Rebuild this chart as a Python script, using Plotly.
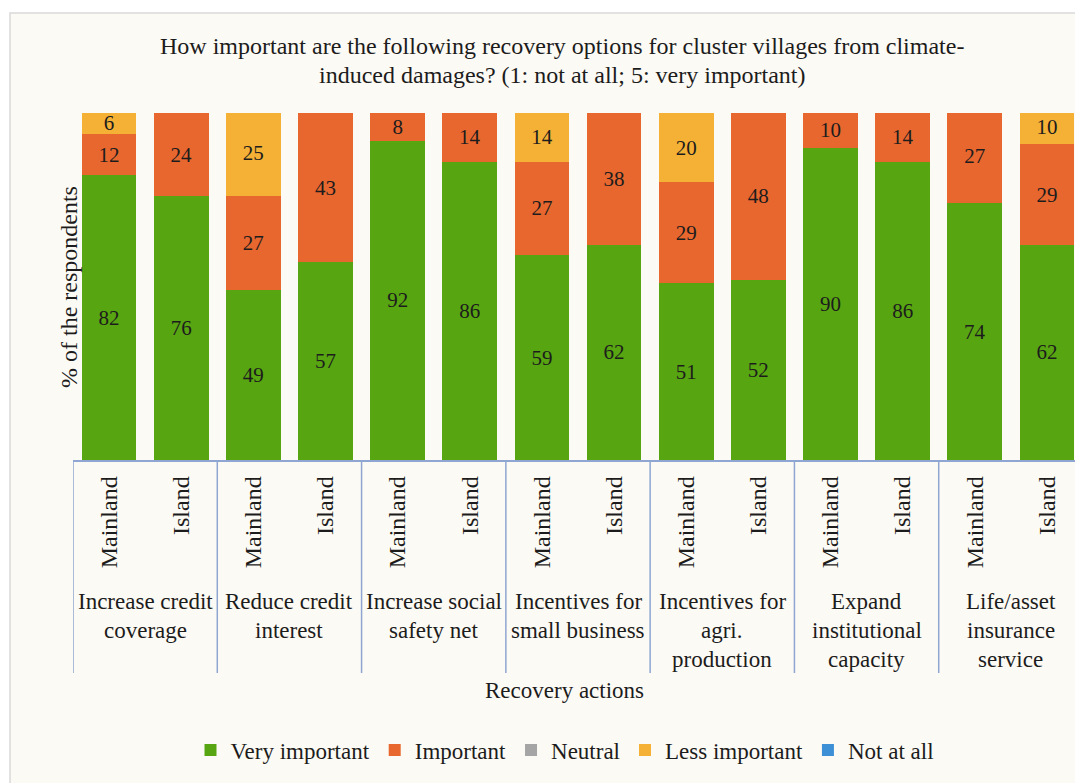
import plotly.graph_objects as go

groups = [["Increase credit", "coverage"], ["Reduce credit", "interest"], ["Increase social", "safety net"],
          ["Incentives for", "small business"], ["Incentives for", "agri.", "production"],
          ["Expand", "institutional", "capacity"], ["Life/asset", "insurance", "service"]]
sites = ["Mainland", "Island"]

very_important = [82, 76, 49, 57, 92, 86, 59, 62, 51, 52, 90, 86, 74, 62]
important      = [12, 24, 27, 43, 8, 14, 27, 38, 29, 48, 10, 14, 27, 29]
neutral        = [0] * 14
less_important = [6, 0, 25, 0, 0, 0, 14, 0, 20, 0, 0, 0, 0, 10]
not_at_all     = [0] * 14

title_lines = ["How important are the following recovery options for cluster villages from climate-",
               "induced damages? (1: not at all; 5: very important)"]

series = [
    ("Very important", very_important, "#58a512"),
    ("Important", important, "#e8672f"),
    ("Neutral", neutral, "#a5a5a5"),
    ("Less important", less_important, "#f4b135"),
    ("Not at all", not_at_all, "#3d8fd6"),
]

FONT = "Liberation Serif"
INK = "#1c1c1c"
xs = list(range(len(groups) * len(sites)))
ticktext = [sites[i % 2] for i in xs]

# plot area in reference pixels: x 73..1083, y 113..460
def py(yref_px):
    return (460 - yref_px) / 347.0

def px(xref_px):
    return (xref_px - 73) / 1010.0

fig = go.Figure()
for name, vals, col in series:
    fig.add_trace(go.Bar(
        x=xs, y=vals, name=name, marker=dict(color=col, line=dict(width=0)),
        width=0.76,
        text=[str(v) if v else "" for v in vals],
        textposition="inside", insidetextanchor="middle", textangle=0,
        textfont=dict(family=FONT, size=21, color=INK),
        constraintext="none", hoverinfo="skip",
    ))

shapes = []
shapes.append(dict(type="rect", xref="paper", yref="paper", x0=px(10), x1=px(1100), y0=py(800), y1=py(13),
                   fillcolor="#fcfaf4", line=dict(color="#d9d9d9", width=1.5), layer="below"))
for g in range(len(groups) + 1):
    shapes.append(dict(type="line", xref="x", yref="paper", x0=2 * g - 0.5, x1=2 * g - 0.5,
                       y0=0, y1=py(673), line=dict(color="#8fa6d2", width=1.5)))

annotations = []
for g, lines in enumerate(groups):
    for k, line in enumerate(lines):
        annotations.append(dict(x=2 * g + 0.5, xref="x", y=py(601 + 29 * k), yref="paper", text=line,
                                showarrow=False, yanchor="middle", xanchor="center",
                                font=dict(family=FONT, size=23, color=INK)))
for k, line in enumerate(title_lines):
    annotations.append(dict(x=px(562), xref="paper", y=py(46 + 29 * k), yref="paper", text=line,
                            showarrow=False, yanchor="middle", xanchor="center",
                            font=dict(family=FONT, size=24, color=INK)))
annotations.append(dict(x=px(564), xref="paper", y=py(690), yref="paper", text="Recovery actions",
                        showarrow=False, yanchor="middle", font=dict(family=FONT, size=23, color=INK)))
annotations.append(dict(x=px(54), xref="paper", y=py(287), yref="paper", text="% of the respondents",
                        textangle=-90, showarrow=False, font=dict(family=FONT, size=24, color=INK)))

fig.update_layout(
    barmode="stack",
    width=1075, height=775,
    margin=dict(l=65, r=0, t=105, b=323),
    paper_bgcolor="white", plot_bgcolor="rgba(0,0,0,0)",
    font=dict(family=FONT, size=21, color=INK),
    showlegend=True,
    legend=dict(orientation="h", x=px(565), xanchor="center", y=py(750), yanchor="middle",
                font=dict(family=FONT, size=23, color=INK), bgcolor="rgba(0,0,0,0)",
                traceorder="normal", itemwidth=30),
    uniformtext=dict(minsize=21, mode="show"),
    xaxis=dict(range=[-0.5, 13.5], tickmode="array", tickvals=xs, ticktext=ticktext, tickangle=-90,
               ticks="outside", ticklen=5, tickcolor="rgba(0,0,0,0)",
               showline=True, linecolor="#8fa6d2", linewidth=1.5, showgrid=False, zeroline=False,
               tickfont=dict(family=FONT, size=24, color=INK), fixedrange=True),
    yaxis=dict(range=[0, 100], showticklabels=False, showgrid=False, zeroline=False, showline=False,
               ticks="", fixedrange=True),
    shapes=shapes, annotations=annotations,
)

fig.write_html("out.html")
